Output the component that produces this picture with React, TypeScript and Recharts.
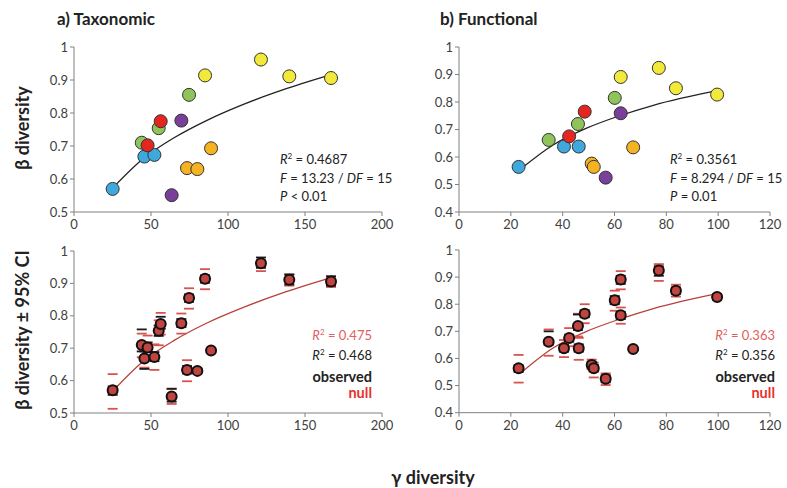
import React from "react";
import { ComposedChart, Scatter, Line, XAxis, YAxis } from "recharts";

const FONT = "Lato, 'Open Sans', sans-serif";

const GROUP_COLORS: Record<string, string> = {
  blue: "#3fa9dd",
  green: "#8fc45a",
  red: "#e52620",
  purple: "#7a3f98",
  yellow: "#f3e93b",
  orange: "#f5b324",
};

// a) taxonomic: gamma, beta, site group, CI of null (red) and observed (black)
const taxGamma = [25.1, 45.7, 52.2, 44.0, 47.8, 55.0, 56.3, 69.7, 74.7, 85.1, 63.4, 73.4, 80.1, 89.0, 121.4, 139.8, 166.9];
const taxBeta = [0.570, 0.668, 0.673, 0.710, 0.702, 0.754, 0.775, 0.777, 0.855, 0.914, 0.551, 0.633, 0.630, 0.693, 0.962, 0.911, 0.906];
const taxGroup = ["blue", "blue", "blue", "green", "red", "green", "red", "purple", "green", "yellow", "purple", "orange", "orange", "orange", "yellow", "yellow", "yellow"];
const taxNullLo = [0.513, 0.640, 0.633, 0.672, 0.668, 0.709, 0.742, 0.745, 0.822, 0.882, 0.528, 0.598, 0.621, 0.688, 0.938, 0.893, 0.889];
const taxNullHi = [0.620, 0.703, 0.712, 0.745, 0.739, 0.786, 0.809, 0.807, 0.885, 0.944, 0.574, 0.663, 0.638, 0.698, 0.972, 0.926, 0.921];
const taxObsLo = [0.556, 0.636, 0.660, 0.690, 0.688, 0.738, 0.760, 0.765, 0.843, 0.902, 0.535, 0.622, 0.624, 0.689, 0.948, 0.897, 0.893];
const taxObsHi = [0.582, 0.690, 0.688, 0.758, 0.718, 0.770, 0.797, 0.790, 0.866, 0.925, 0.575, 0.645, 0.636, 0.697, 0.980, 0.928, 0.922];

// b) functional
const funGamma = [23.0, 34.6, 40.5, 42.5, 46.2, 45.9, 48.5, 51.2, 52.0, 56.6, 60.1, 62.4, 62.4, 67.2, 77.1, 83.7, 99.6];
const funBeta = [0.564, 0.662, 0.638, 0.675, 0.638, 0.720, 0.765, 0.576, 0.564, 0.525, 0.815, 0.759, 0.891, 0.635, 0.924, 0.850, 0.827];
const funGroup = ["blue", "green", "blue", "red", "blue", "green", "red", "orange", "orange", "purple", "green", "purple", "yellow", "orange", "yellow", "yellow", "yellow"];
const funNullLo = [0.511, 0.610, 0.605, 0.645, 0.595, 0.681, 0.730, 0.560, 0.530, 0.502, 0.776, 0.728, 0.855, 0.628, 0.886, 0.828, 0.815];
const funNullHi = [0.613, 0.707, 0.668, 0.712, 0.676, 0.765, 0.800, 0.596, 0.585, 0.545, 0.850, 0.788, 0.922, 0.641, 0.948, 0.872, 0.838];
const funObsLo = [0.550, 0.650, 0.625, 0.662, 0.625, 0.705, 0.752, 0.565, 0.552, 0.512, 0.800, 0.745, 0.875, 0.630, 0.905, 0.838, 0.818];
const funObsHi = [0.575, 0.700, 0.650, 0.688, 0.652, 0.762, 0.778, 0.588, 0.576, 0.538, 0.830, 0.772, 0.905, 0.640, 0.940, 0.862, 0.835];

// fitted curves
const taxFitX = [25, 45, 65, 86, 110, 135, 167];
const taxFitY = [0.572, 0.662, 0.725, 0.777, 0.826, 0.869, 0.916];
const taxNullFitY = [0.567, 0.660, 0.724, 0.777, 0.826, 0.870, 0.918];
const funFitX = [24, 36, 49, 62, 75, 100];
const funFitY = [0.558, 0.642, 0.704, 0.750, 0.788, 0.842];
const funNullFitY = [0.548, 0.637, 0.699, 0.745, 0.784, 0.840];

const taxXTicks = [0, 50, 100, 150, 200];
const funXTicks = [0, 20, 40, 60, 80, 100, 120];
const taxYTicks = [0.5, 0.6, 0.7, 0.8, 0.9, 1];
const funYTicks = [0.4, 0.5, 0.6, 0.7, 0.8, 0.9, 1];

const Y_AXIS_W = 50;
const AXIS_GREY = "#808080";
const tickStyle = { fill: "#404040", fontSize: 13, fontFamily: FONT };

type Box = { x0: number; y0: number; x1: number; y1: number };

interface PanelProps {
  box: Box;
  xMax: number;
  xTicks: number[];
  yMin: number;
  yTicks: number[];
  gamma: number[];
  beta: number[];
  groups: string[];
  fitX: number[];
  fitY: number[];
  ci?: { nullLo: number[]; nullHi: number[]; obsLo: number[]; obsHi: number[] };
}

const Panel: React.FC<PanelProps> = ({ box, xMax, xTicks, yMin, yTicks, gamma, beta, groups, fitX, fitY, ci }) => {
  const left = box.x0 - Y_AXIS_W;
  const top = box.y0 - 10;
  const width = box.x1 - left + 12;
  const height = box.y1 - top + 30;

  const points = gamma.map((g, i) => ({ x: g, y: beta[i], group: groups[i] }));
  const curve = fitX.map((x, i) => ({ x, y: fitY[i] }));
  const isNull = !!ci;

  const dash = (color: string) => (p: any) => (
    <line x1={p.cx - 5} x2={p.cx + 5} y1={p.cy} y2={p.cy} stroke={color} strokeWidth={1.8} />
  );

  return (
    <div style={{ position: "absolute", left, top }}>
      <ComposedChart width={width} height={height} margin={{ top: 10, right: 12, bottom: 0, left: 0 }}>
        <XAxis
          type="number"
          dataKey="x"
          domain={[0, xMax]}
          ticks={xTicks}
          height={30}
          tick={tickStyle}
          tickSize={4}
          tickMargin={4}
          axisLine={{ stroke: AXIS_GREY }}
          tickLine={{ stroke: AXIS_GREY }}
        />
        <YAxis
          type="number"
          dataKey="y"
          domain={[yMin, 1]}
          ticks={yTicks}
          width={Y_AXIS_W}
          tick={tickStyle}
          tickSize={4}
          tickMargin={2}
          axisLine={{ stroke: AXIS_GREY }}
          tickLine={{ stroke: AXIS_GREY }}
          tickFormatter={(v: number) => String(+v.toFixed(1))}
        />
        <Line
          data={curve}
          dataKey="y"
          type="monotone"
          stroke={isNull ? "#b8403c" : "#222"}
          strokeWidth={1.3}
          dot={false}
          activeDot={false}
          isAnimationActive={false}
        />
        {ci && (
          <Scatter
            data={gamma.flatMap((g, i) => [{ x: g, y: ci.nullLo[i] }, { x: g, y: ci.nullHi[i] }])}
            shape={dash("#d9534f")}
            isAnimationActive={false}
          />
        )}
        {ci && (
          <Scatter
            data={gamma.flatMap((g, i) => [{ x: g, y: ci.obsLo[i] }, { x: g, y: ci.obsHi[i] }])}
            shape={dash("#1a1a1a")}
            isAnimationActive={false}
          />
        )}
        <Scatter
          data={points}
          isAnimationActive={false}
          shape={(p: any) =>
            isNull ? (
              <circle cx={p.cx} cy={p.cy} r={5} fill="#c0443f" stroke="#111" strokeWidth={2} />
            ) : (
              <circle cx={p.cx} cy={p.cy} r={6.5} fill={GROUP_COLORS[p.payload?.group] || "#999"} stroke="#333" strokeWidth={1} />
            )
          }
        />
      </ComposedChart>
    </div>
  );
};

const R2: React.FC<{ v: string }> = ({ v }) => (
  <span>
    <i>R</i>
    <sup style={{ fontSize: 8, verticalAlign: "5px" }}>2</sup> = {v}
  </span>
);

const statStyle: React.CSSProperties = {
  position: "absolute",
  fontFamily: FONT,
  fontSize: 13,
  lineHeight: "18.5px",
  color: "#222",
  whiteSpace: "nowrap",
};

const bold: React.CSSProperties = { fontFamily: FONT, fontWeight: 700, color: "#222", position: "absolute", whiteSpace: "nowrap" };

export default function App() {
  return (
    <div style={{ position: "absolute", left: 0, top: 0, width: 787, height: 488, background: "#fff", overflow: "hidden" }}>
      <div style={{ ...bold, left: 57, top: 8, fontSize: 17 }}>a) Taxonomic</div>
      <div style={{ ...bold, left: 440, top: 8, fontSize: 17 }}>b) Functional</div>

      <div style={{ ...bold, left: 22, top: 128, fontSize: 18, transform: "translate(-50%, -50%) rotate(-90deg)" }}>β diversity</div>
      <div style={{ ...bold, left: 22, top: 330, fontSize: 18, transform: "translate(-50%, -50%) rotate(-90deg)" }}>β diversity ± 95% CI</div>
      <div style={{ ...bold, left: 433, top: 477, fontSize: 18, transform: "translate(-50%, -50%)" }}>γ diversity</div>

      <Panel box={{ x0: 74, y0: 46.5, x1: 382, y1: 211.5 }} xMax={200} xTicks={taxXTicks} yMin={0.5} yTicks={taxYTicks}
        gamma={taxGamma} beta={taxBeta} groups={taxGroup} fitX={taxFitX} fitY={taxFitY} />
      <Panel box={{ x0: 459, y0: 46.7, x1: 770, y1: 211.7 }} xMax={120} xTicks={funXTicks} yMin={0.4} yTicks={funYTicks}
        gamma={funGamma} beta={funBeta} groups={funGroup} fitX={funFitX} fitY={funFitY} />
      <Panel box={{ x0: 74, y0: 250.7, x1: 382, y1: 412.7 }} xMax={200} xTicks={taxXTicks} yMin={0.5} yTicks={taxYTicks}
        gamma={taxGamma} beta={taxBeta} groups={taxGroup} fitX={taxFitX} fitY={taxNullFitY}
        ci={{ nullLo: taxNullLo, nullHi: taxNullHi, obsLo: taxObsLo, obsHi: taxObsHi }} />
      <Panel box={{ x0: 459, y0: 250, x1: 770, y1: 412.7 }} xMax={120} xTicks={funXTicks} yMin={0.4} yTicks={funYTicks}
        gamma={funGamma} beta={funBeta} groups={funGroup} fitX={funFitX} fitY={funNullFitY}
        ci={{ nullLo: funNullLo, nullHi: funNullHi, obsLo: funObsLo, obsHi: funObsHi }} />

      <div style={{ ...statStyle, left: 280, top: 147 }}>
        <div><R2 v="0.4687" /></div>
        <div><i>F</i> = 13.23 / <i>DF</i> = 15</div>
        <div><i>P</i> &lt; 0.01</div>
      </div>
      <div style={{ ...statStyle, left: 670, top: 147 }}>
        <div><R2 v="0.3561" /></div>
        <div><i>F</i> = 8.294 / <i>DF</i> = 15</div>
        <div><i>P</i> = 0.01</div>
      </div>

      <div style={{ ...statStyle, right: 787 - 372, top: 324, lineHeight: "17px", textAlign: "right" }}>
        <div style={{ color: "#e06060" }}><R2 v="0.475" /></div>
        <div><R2 v="0.468" /></div>
      </div>
      <div style={{ ...bold, right: 787 - 372, top: 369, fontSize: 14.5, textAlign: "right", lineHeight: "16px" }}>
        <div>observed</div>
        <div style={{ color: "#e8312f" }}>null</div>
      </div>
      <div style={{ ...statStyle, right: 787 - 775, top: 324, lineHeight: "17px", textAlign: "right" }}>
        <div style={{ color: "#e06060" }}><R2 v="0.363" /></div>
        <div><R2 v="0.356" /></div>
      </div>
      <div style={{ ...bold, right: 787 - 775, top: 369, fontSize: 14.5, textAlign: "right", lineHeight: "16px" }}>
        <div>observed</div>
        <div style={{ color: "#e8312f" }}>null</div>
      </div>
    </div>
  );
}
